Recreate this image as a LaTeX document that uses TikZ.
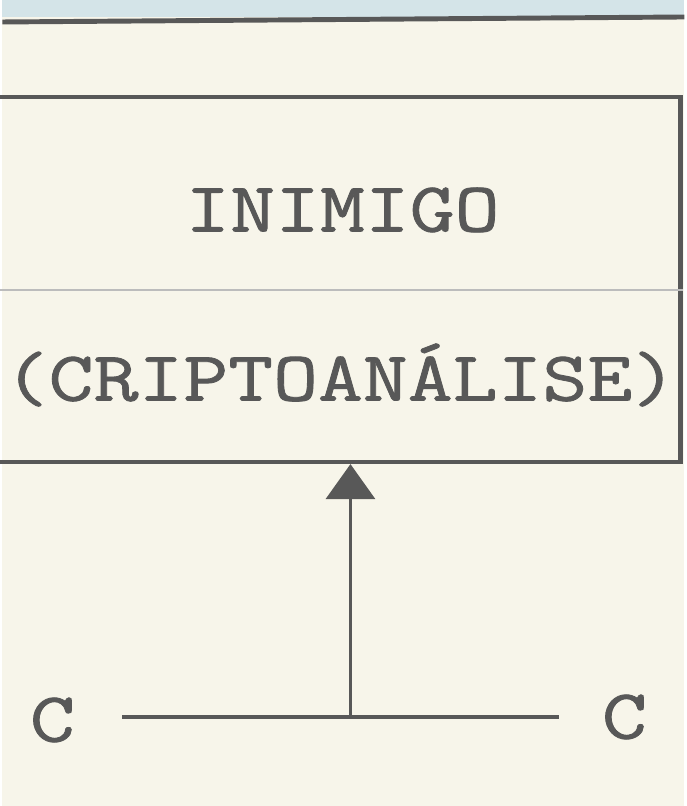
\documentclass[tikz,border=0pt]{standalone}
\usepackage{fontspec}
\setmonofont{Latin Modern Mono}[FakeStretch=1.24,FakeBold=1.2]
\usepackage{tikz}
\usetikzlibrary{arrows.meta,positioning,calc}

\definecolor{paper}{RGB}{247,245,234}
\definecolor{sky}{RGB}{212,228,232}
\definecolor{ink}{RGB}{88,88,88}

\begin{document}
\begin{tikzpicture}[
  >=Triangle,
  box/.style={draw=ink,line width=1.2pt,minimum width=6.88cm,minimum height=3.65cm,inner sep=0pt},
  label/.style={text=ink,font=\ttfamily\fontsize{20}{24}\selectfont,inner sep=0pt},
  wire/.style={draw=ink,line width=1pt}
]
  % page and top edge
  \fill[paper] (0,0) rectangle (6.82,8.06);
  \fill[sky] (0,7.89) rectangle (6.82,8.06);
  \draw[ink,line width=1.4pt] (0,7.84) -- (6.82,7.89);
  \useasboundingbox (0,0) rectangle (6.82,8.06);

  \node[box] (enemy) at (3.34,5.265) {};
  \coordinate (split) at (3.4,5.16);
  \draw[ink!40,line width=0.5pt] (enemy.west |- split) -- (enemy.east |- split);

  \node[label] (name) at (3.40,5.96) {INIMIGO};
  \node[label] (role) at (3.38,4.31) {(CRIPTOANÁLISE)};

  \node[label] (cleft) at (0.50,0.86) {C};
  \node[label] (cright) at (6.22,0.89) {C};

  \coordinate (lineL) at (1.20,0.89);
  \coordinate (lineR) at (5.57,0.89);
  \coordinate (join) at (3.48,0.89);
  \draw[wire] (lineL) -- (lineR);
  \draw[wire,-{Triangle[width=0.49cm,length=0.35cm]}] (join) -- (join |- enemy.south);
\end{tikzpicture}
\end{document}
